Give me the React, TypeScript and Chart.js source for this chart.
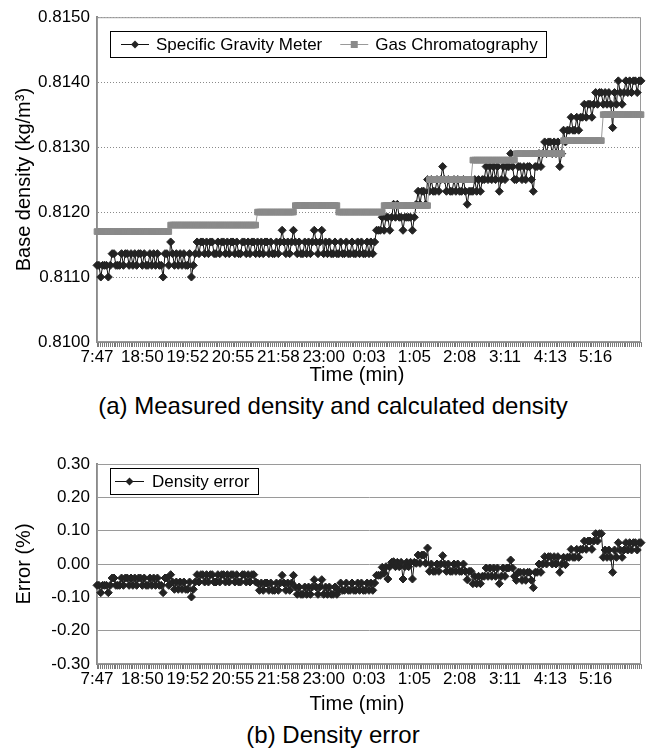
import React, { useEffect, useRef } from 'react';
import { Chart, registerables } from 'chart.js';

Chart.register(...registerables);

const FONT = '"Liberation Sans", Arial, Helvetica, sans-serif';
Chart.defaults.font.family = FONT;
Chart.defaults.color = '#000';

// Time tick labels (one every TICK_EVERY samples)
const TIME_TICKS = ['7:47', '18:50', '19:52', '20:55', '21:58', '23:00', '0:03', '1:05', '2:08', '3:11', '4:13', '5:16'];
const TICK_EVERY = 24;
const X_TITLE = 'Time (min)';

// Specific gravity meter (kg/m3)
const SGM = [
  0.81118, 0.81118, 0.81100, 0.81118, 0.81118, 0.81118, 0.81100, 0.81118, 0.81136, 0.81136,
  0.81118, 0.81118, 0.81118, 0.81136, 0.81118, 0.81136, 0.81136, 0.81118, 0.81136, 0.81118,
  0.81136, 0.81118, 0.81136, 0.81136, 0.81118, 0.81136, 0.81118, 0.81118, 0.81136, 0.81118,
  0.81136, 0.81118, 0.81136, 0.81118, 0.81118, 0.81100, 0.81136, 0.81136, 0.81118, 0.81154,
  0.81136, 0.81118, 0.81136, 0.81118, 0.81136, 0.81118, 0.81136, 0.81118, 0.81118, 0.81136,
  0.81100, 0.81118, 0.81136, 0.81154, 0.81136, 0.81154, 0.81154, 0.81136, 0.81154, 0.81136,
  0.81154, 0.81154, 0.81136, 0.81136, 0.81154, 0.81136, 0.81154, 0.81154, 0.81136, 0.81154,
  0.81136, 0.81154, 0.81154, 0.81136, 0.81154, 0.81136, 0.81136, 0.81154, 0.81154, 0.81136,
  0.81154, 0.81136, 0.81154, 0.81154, 0.81136, 0.81154, 0.81136, 0.81154, 0.81136, 0.81154,
  0.81154, 0.81136, 0.81154, 0.81136, 0.81136, 0.81154, 0.81136, 0.81154, 0.81172, 0.81154,
  0.81136, 0.81154, 0.81136, 0.81154, 0.81172, 0.81154, 0.81136, 0.81154, 0.81136, 0.81136,
  0.81154, 0.81136, 0.81154, 0.81136, 0.81154, 0.81172, 0.81154, 0.81136, 0.81154, 0.81172,
  0.81136, 0.81154, 0.81136, 0.81154, 0.81136, 0.81136, 0.81154, 0.81136, 0.81136, 0.81154,
  0.81136, 0.81136, 0.81154, 0.81136, 0.81136, 0.81154, 0.81136, 0.81136, 0.81154, 0.81136,
  0.81154, 0.81136, 0.81136, 0.81154, 0.81136, 0.81154, 0.81136, 0.81154, 0.81172, 0.81172,
  0.81172, 0.81192, 0.81172, 0.81192, 0.81192, 0.81172, 0.81192, 0.81212, 0.81192, 0.81212,
  0.81192, 0.81192, 0.81172, 0.81192, 0.81192, 0.81192, 0.81192, 0.81172, 0.81192, 0.81212,
  0.81232, 0.81212, 0.81232, 0.81232, 0.81212, 0.81250, 0.81232, 0.81250, 0.81232, 0.81232,
  0.81250, 0.81232, 0.81250, 0.81270, 0.81250, 0.81232, 0.81250, 0.81232, 0.81232, 0.81250,
  0.81232, 0.81250, 0.81232, 0.81232, 0.81250, 0.81232, 0.81212, 0.81232, 0.81232, 0.81232,
  0.81250, 0.81232, 0.81250, 0.81232, 0.81250, 0.81250, 0.81270, 0.81250, 0.81270, 0.81250,
  0.81270, 0.81250, 0.81270, 0.81232, 0.81250, 0.81270, 0.81250, 0.81270, 0.81270, 0.81290,
  0.81270, 0.81250, 0.81250, 0.81270, 0.81270, 0.81250, 0.81270, 0.81250, 0.81270, 0.81270,
  0.81250, 0.81232, 0.81270, 0.81270, 0.81290, 0.81270, 0.81290, 0.81308, 0.81290, 0.81308,
  0.81308, 0.81290, 0.81308, 0.81290, 0.81308, 0.81270, 0.81290, 0.81326, 0.81308, 0.81326,
  0.81326, 0.81346, 0.81326, 0.81326, 0.81346, 0.81326, 0.81346, 0.81346, 0.81366, 0.81346,
  0.81366, 0.81366, 0.81346, 0.81366, 0.81384, 0.81366, 0.81384, 0.81384, 0.81366, 0.81384,
  0.81366, 0.81384, 0.81366, 0.81330, 0.81384, 0.81366, 0.81402, 0.81384, 0.81366, 0.81384,
  0.81402, 0.81384, 0.81402, 0.81384, 0.81402, 0.81402, 0.81384, 0.81402, 0.81402,
];

// Gas chromatography (kg/m3)
const GCH = [
  0.8117, 0.8117, 0.8117, 0.8117, 0.8117, 0.8117, 0.8117, 0.8117, 0.8117, 0.8117,
  0.8117, 0.8117, 0.8117, 0.8117, 0.8117, 0.8117, 0.8117, 0.8117, 0.8117, 0.8117,
  0.8117, 0.8117, 0.8117, 0.8117, 0.8117, 0.8117, 0.8117, 0.8117, 0.8117, 0.8117,
  0.8117, 0.8117, 0.8117, 0.8117, 0.8117, 0.8117, 0.8117, 0.8117, 0.8117, 0.8118,
  0.8118, 0.8118, 0.8118, 0.8118, 0.8118, 0.8118, 0.8118, 0.8118, 0.8118, 0.8118,
  0.8118, 0.8118, 0.8118, 0.8118, 0.8118, 0.8118, 0.8118, 0.8118, 0.8118, 0.8118,
  0.8118, 0.8118, 0.8118, 0.8118, 0.8118, 0.8118, 0.8118, 0.8118, 0.8118, 0.8118,
  0.8118, 0.8118, 0.8118, 0.8118, 0.8118, 0.8118, 0.8118, 0.8118, 0.8118, 0.8118,
  0.8118, 0.8118, 0.8118, 0.8118, 0.8118, 0.8120, 0.8120, 0.8120, 0.8120, 0.8120,
  0.8120, 0.8120, 0.8120, 0.8120, 0.8120, 0.8120, 0.8120, 0.8120, 0.8120, 0.8120,
  0.8120, 0.8120, 0.8120, 0.8120, 0.8120, 0.8121, 0.8121, 0.8121, 0.8121, 0.8121,
  0.8121, 0.8121, 0.8121, 0.8121, 0.8121, 0.8121, 0.8121, 0.8121, 0.8121, 0.8121,
  0.8121, 0.8121, 0.8121, 0.8121, 0.8121, 0.8121, 0.8121, 0.8121, 0.8120, 0.8120,
  0.8120, 0.8120, 0.8120, 0.8120, 0.8120, 0.8120, 0.8120, 0.8120, 0.8120, 0.8120,
  0.8120, 0.8120, 0.8120, 0.8120, 0.8120, 0.8120, 0.8120, 0.8120, 0.8120, 0.8120,
  0.8120, 0.8120, 0.8121, 0.8121, 0.8121, 0.8121, 0.8121, 0.8121, 0.8121, 0.8121,
  0.8121, 0.8121, 0.8121, 0.8121, 0.8121, 0.8121, 0.8121, 0.8121, 0.8121, 0.8121,
  0.8121, 0.8121, 0.8121, 0.8121, 0.8121, 0.8121, 0.8125, 0.8125, 0.8125, 0.8125,
  0.8125, 0.8125, 0.8125, 0.8125, 0.8125, 0.8125, 0.8125, 0.8125, 0.8125, 0.8125,
  0.8125, 0.8125, 0.8125, 0.8125, 0.8125, 0.8125, 0.8125, 0.8125, 0.8125, 0.8128,
  0.8128, 0.8128, 0.8128, 0.8128, 0.8128, 0.8128, 0.8128, 0.8128, 0.8128, 0.8128,
  0.8128, 0.8128, 0.8128, 0.8128, 0.8128, 0.8128, 0.8128, 0.8128, 0.8128, 0.8128,
  0.8128, 0.8128, 0.8129, 0.8129, 0.8129, 0.8129, 0.8129, 0.8129, 0.8129, 0.8129,
  0.8129, 0.8129, 0.8129, 0.8129, 0.8129, 0.8129, 0.8129, 0.8129, 0.8129, 0.8129,
  0.8129, 0.8129, 0.8129, 0.8129, 0.8129, 0.8129, 0.8129, 0.8131, 0.8131, 0.8131,
  0.8131, 0.8131, 0.8131, 0.8131, 0.8131, 0.8131, 0.8131, 0.8131, 0.8131, 0.8131,
  0.8131, 0.8131, 0.8131, 0.8131, 0.8131, 0.8131, 0.8131, 0.8131, 0.8135, 0.8135,
  0.8135, 0.8135, 0.8135, 0.8135, 0.8135, 0.8135, 0.8135, 0.8135, 0.8135, 0.8135,
  0.8135, 0.8135, 0.8135, 0.8135, 0.8135, 0.8135, 0.8135, 0.8135, 0.8135,
];

// Density error (%)
const ERR = [
  -0.064, -0.064, -0.086, -0.064, -0.064, -0.064, -0.086, -0.064, -0.042, -0.042,
  -0.064, -0.064, -0.064, -0.042, -0.064, -0.042, -0.042, -0.064, -0.042, -0.064,
  -0.042, -0.064, -0.042, -0.042, -0.064, -0.042, -0.064, -0.064, -0.042, -0.064,
  -0.042, -0.064, -0.042, -0.064, -0.064, -0.086, -0.042, -0.042, -0.064, -0.032,
  -0.054, -0.076, -0.054, -0.076, -0.054, -0.076, -0.054, -0.076, -0.076, -0.054,
  -0.099, -0.076, -0.054, -0.032, -0.054, -0.032, -0.032, -0.054, -0.032, -0.054,
  -0.032, -0.032, -0.054, -0.054, -0.032, -0.054, -0.032, -0.032, -0.054, -0.032,
  -0.054, -0.032, -0.032, -0.054, -0.032, -0.054, -0.054, -0.032, -0.032, -0.054,
  -0.032, -0.054, -0.032, -0.032, -0.054, -0.057, -0.079, -0.057, -0.079, -0.057,
  -0.057, -0.079, -0.057, -0.079, -0.079, -0.057, -0.079, -0.057, -0.034, -0.057,
  -0.079, -0.057, -0.079, -0.057, -0.034, -0.069, -0.091, -0.069, -0.091, -0.091,
  -0.069, -0.091, -0.069, -0.091, -0.069, -0.047, -0.069, -0.091, -0.069, -0.047,
  -0.091, -0.069, -0.091, -0.069, -0.091, -0.091, -0.069, -0.091, -0.079, -0.057,
  -0.079, -0.079, -0.057, -0.079, -0.079, -0.057, -0.079, -0.079, -0.057, -0.079,
  -0.057, -0.079, -0.079, -0.057, -0.079, -0.057, -0.079, -0.057, -0.034, -0.034,
  -0.034, -0.010, -0.028, -0.008, -0.045, -0.008, 0.005, 0.007, -0.008, 0.005,
  -0.008, 0.005, -0.045, -0.008, 0.005, -0.008, 0.005, -0.045, 0.005, 0.002,
  0.027, 0.002, 0.027, 0.027, 0.002, 0.048, -0.022, 0.000, -0.022, -0.022,
  0.000, -0.022, 0.000, 0.025, 0.000, -0.022, 0.000, -0.022, -0.022, 0.000,
  -0.022, 0.000, -0.022, -0.022, 0.000, -0.022, -0.047, -0.022, -0.022, -0.059,
  -0.037, -0.059, -0.037, -0.059, -0.037, -0.037, -0.012, -0.037, -0.012, -0.037,
  -0.012, -0.037, -0.012, -0.059, -0.037, -0.012, -0.037, -0.012, -0.012, 0.012,
  -0.012, -0.037, -0.049, -0.025, -0.025, -0.049, -0.025, -0.049, -0.025, -0.025,
  -0.049, -0.071, -0.025, -0.025, 0.000, -0.025, 0.000, 0.022, 0.000, 0.022,
  0.022, 0.000, 0.022, 0.000, 0.022, -0.025, 0.000, 0.020, -0.002, 0.020,
  0.020, 0.044, 0.020, 0.020, 0.044, 0.020, 0.044, 0.044, 0.069, 0.044,
  0.069, 0.069, 0.044, 0.069, 0.091, 0.069, 0.091, 0.091, 0.020, 0.042,
  0.020, 0.042, 0.020, -0.025, 0.042, 0.020, 0.064, 0.042, 0.020, 0.042,
  0.064, 0.042, 0.064, 0.042, 0.064, 0.064, 0.042, 0.064, 0.064,
];

const CATEGORIES = SGM.map((_, i) => String(i));

const DENSITY_MIN = 0.81;
const DENSITY_MAX = 0.815;
const DENSITY_STEP = 0.001;
const ERROR_MIN = -0.3;
const ERROR_MAX = 0.3;
const ERROR_STEP = 0.1;

const frame = {
  id: 'frame',
  beforeDatasetsDraw(chart: any) {
    const { ctx, chartArea: a } = chart;
    ctx.save();
    ctx.strokeStyle = '#9a9a9a';
    ctx.lineWidth = 1;
    ctx.strokeRect(a.left + 0.5, a.top + 0.5, a.right - a.left - 1, a.bottom - a.top - 1);
    ctx.restore();
  },
};

// x-axis title drawn slightly left of the plot centre, like the original
const xTitle = {
  id: 'xTitle',
  afterDraw(chart: any, _args: any, o: any) {
    const { ctx, chartArea: a } = chart;
    ctx.save();
    ctx.font = `${o.fontSize}px ${FONT}`;
    ctx.fillStyle = '#000';
    ctx.textAlign = 'center';
    ctx.textBaseline = 'middle';
    ctx.fillText(o.text, (a.left + a.right) / 2 + o.dx, a.bottom + o.dy);
    ctx.restore();
  },
};

const boxLegend = {
  id: 'boxLegend',
  afterDraw(chart: any, _args: any, o: any) {
    const { ctx, chartArea } = chart;
    ctx.save();
    ctx.font = `${o.fontSize}px ${FONT}`;
    const items = chart.data.datasets.map((ds: any) => ({ ds, w: ctx.measureText(ds.label).width }));
    let width = o.padLeft + o.padRight;
    items.forEach((it: any, k: number) => {
      width += o.symbol + o.gap + it.w + (k ? o.itemGap : 0);
    });
    const x0 = Math.round(chartArea.left + o.offsetX);
    const y0 = Math.round(chartArea.top + o.offsetY);
    ctx.fillStyle = '#fff';
    ctx.fillRect(x0, y0, width, o.height);
    ctx.strokeStyle = '#000';
    ctx.lineWidth = 1;
    ctx.strokeRect(x0 + 0.5, y0 + 0.5, Math.round(width), o.height);
    let x = x0 + o.padLeft;
    const cy = y0 + o.height / 2 + 0.5;
    items.forEach((it: any, k: number) => {
      if (k) x += o.itemGap;
      const ds = it.ds;
      ctx.strokeStyle = ds.borderColor;
      ctx.lineWidth = 1;
      ctx.beginPath();
      ctx.moveTo(x, cy);
      ctx.lineTo(x + o.symbol, cy);
      ctx.stroke();
      const cx = x + o.symbol / 2;
      ctx.fillStyle = ds.pointBackgroundColor;
      ctx.beginPath();
      if (ds.pointStyle === 'rectRot') {
        const r = 4;
        ctx.moveTo(cx, cy - r);
        ctx.lineTo(cx + r, cy);
        ctx.lineTo(cx, cy + r);
        ctx.lineTo(cx - r, cy);
        ctx.closePath();
      } else {
        const h = 3.5;
        ctx.rect(cx - h, cy - h, 2 * h, 2 * h);
      }
      ctx.fill();
      ctx.fillStyle = '#000';
      ctx.textBaseline = 'middle';
      ctx.textAlign = 'left';
      ctx.fillText(ds.label, x + o.symbol + o.gap, cy + 1);
      x += o.symbol + o.gap + it.w;
    });
    ctx.restore();
  },
};

const tickFont = { size: 17, family: FONT };
const titleFont = { size: 20, family: FONT };

function xScale(height: number) {
  return {
    type: 'category',
    offset: false,
    ticks: {
      autoSkip: false,
      maxRotation: 0,
      minRotation: 0,
      padding: 0,
      font: tickFont,
      color: '#000',
      callback: (_v: any, i: number) => (i % TICK_EVERY === 0 ? TIME_TICKS[i / TICK_EVERY] ?? '' : ''),
    },
    grid: { drawOnChartArea: false, drawTicks: true, tickLength: 5, tickColor: '#7a7a7a', color: '#7a7a7a' },
    border: { display: true, color: '#8a8a8a', width: 1 },
    title: { display: false },
    afterFit: (s: any) => {
      s.height = height;
    },
  };
}

const sgStyle = {
  borderColor: '#111',
  borderWidth: 1,
  pointStyle: 'rectRot',
  pointRadius: 4,
  pointBorderWidth: 1,
  pointBackgroundColor: '#232323',
  pointBorderColor: '#232323',
  tension: 0,
  clip: false,
};

function topConfig(): any {
  return {
    type: 'line',
    data: {
      labels: CATEGORIES,
      datasets: [
        { label: 'Specific Gravity Meter', data: SGM, order: 2, ...sgStyle },
        {
          label: 'Gas Chromatography',
          data: GCH,
          order: 1,
          borderColor: '#999',
          borderWidth: 1,
          pointStyle: 'rect',
          pointRadius: 4,
          pointBorderWidth: 1,
          pointBackgroundColor: '#8a8a8a',
          pointBorderColor: '#8a8a8a',
          tension: 0,
          clip: false,
        },
      ],
    },
    options: {
      responsive: false,
      animation: false,
      events: [],
      layout: { padding: { top: 10, right: 9, left: 0, bottom: 0 } },
      scales: {
        x: xScale(50),
        y: {
          min: DENSITY_MIN,
          max: DENSITY_MAX,
          ticks: {
            stepSize: DENSITY_STEP,
            padding: 7,
            font: tickFont,
            color: '#000',
            callback: (v: any) => Number(v).toFixed(4),
          },
          grid: { drawTicks: false, color: '#8a8a8a', lineWidth: 1 },
          border: { display: true, color: '#8a8a8a', width: 2, dash: [1, 2] },
          title: { display: true, text: 'Base density (kg/m³)', font: titleFont, color: '#000', padding: { top: 12, bottom: 0 } },
          afterFit: (s: any) => {
            s.width = 97;
          },
        },
      },
      plugins: {
        legend: { display: false },
        tooltip: { enabled: false },
        boxLegend: { fontSize: 17, offsetX: 13, offsetY: 14, height: 26, padLeft: 11, padRight: 8, symbol: 28, gap: 7, itemGap: 18 },
        xTitle: { text: X_TITLE, fontSize: 20, dx: -12, dy: 33 },
      },
    },
    plugins: [frame, boxLegend, xTitle],
  };
}

function bottomConfig(): any {
  return {
    type: 'line',
    data: {
      labels: CATEGORIES,
      datasets: [{ label: 'Density error', data: ERR, ...sgStyle }],
    },
    options: {
      responsive: false,
      animation: false,
      events: [],
      layout: { padding: { top: 34, right: 9, left: 0, bottom: 0 } },
      scales: {
        x: xScale(56),
        y: {
          min: ERROR_MIN,
          max: ERROR_MAX,
          ticks: {
            stepSize: ERROR_STEP,
            padding: 7,
            font: tickFont,
            color: '#000',
            callback: (v: any) => (Math.abs(Number(v)) < 1e-9 ? '0.00' : Number(v).toFixed(2)),
          },
          grid: { drawTicks: false, color: '#9a9a9a', lineWidth: 1 },
          border: { display: true, color: '#8a8a8a', width: 2 },
          title: { display: true, text: 'Error (%)', font: titleFont, color: '#000', padding: { top: 12, bottom: 0 } },
          afterFit: (s: any) => {
            s.width = 97;
          },
        },
      },
      plugins: {
        legend: { display: false },
        tooltip: { enabled: false },
        boxLegend: { fontSize: 17, offsetX: 13, offsetY: 4, height: 26, padLeft: 5, padRight: 9, symbol: 29, gap: 8, itemGap: 18 },
        xTitle: { text: X_TITLE, fontSize: 20, dx: -12, dy: 40 },
      },
    },
    plugins: [frame, boxLegend, xTitle],
  };
}

const captionStyle: React.CSSProperties = {
  position: 'absolute',
  left: 16,
  width: 634,
  height: 28,
  lineHeight: '28px',
  textAlign: 'center',
  fontSize: 24,
  fontFamily: FONT,
  color: '#000',
  whiteSpace: 'nowrap',
};

export default function App() {
  const topRef = useRef<HTMLCanvasElement>(null);
  const botRef = useRef<HTMLCanvasElement>(null);

  useEffect(() => {
    const top = new Chart(topRef.current as HTMLCanvasElement, topConfig());
    const bot = new Chart(botRef.current as HTMLCanvasElement, bottomConfig());
    return () => {
      top.destroy();
      bot.destroy();
    };
  }, []);

  return (
    <div style={{ position: 'absolute', left: 0, top: 0, width: 650, height: 754, background: '#fff', overflow: 'hidden' }}>
      <canvas ref={topRef} width={650} height={392} style={{ position: 'absolute', left: 0, top: 0, width: 650, height: 392 }} />
      <div style={{ ...captionStyle, top: 392 }}>(a) Measured density and calculated density</div>
      <canvas ref={botRef} width={650} height={290} style={{ position: 'absolute', left: 0, top: 430, width: 650, height: 290 }} />
      <div style={{ ...captionStyle, top: 721 }}>(b) Density error</div>
    </div>
  );
}
